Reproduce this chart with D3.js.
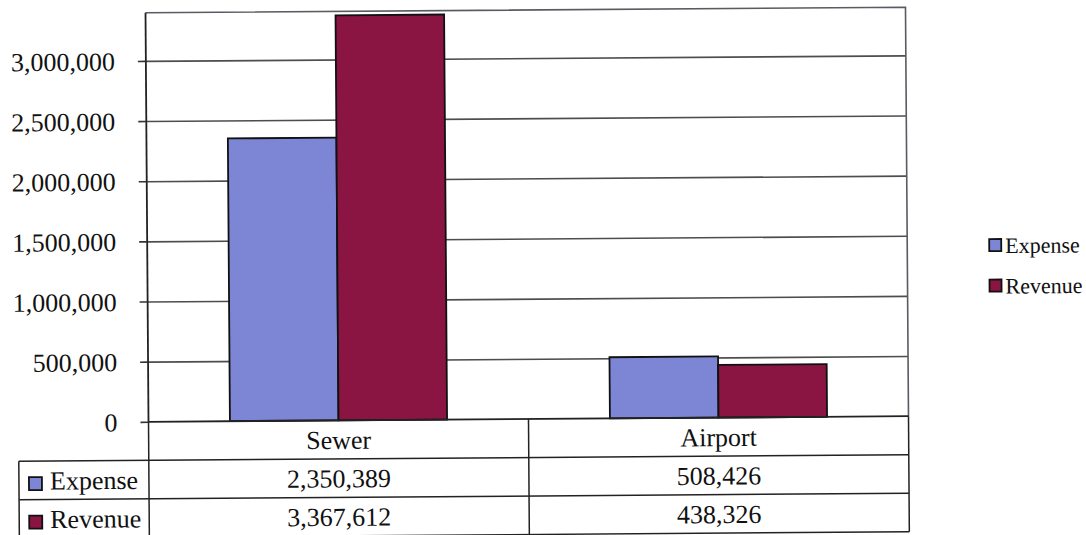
<!DOCTYPE html>
<html>
<head>
<meta charset="utf-8">
<script src="https://cdn.jsdelivr.net/npm/d3@7"></script>
<style>
  html, body { margin: 0; padding: 0; background: #fff; }
  svg { display: block; }
  svg text { font-family: "Liberation Serif", "Times New Roman", Times, Tinos, "DejaVu Serif", serif !important; fill: #111; }
</style>
</head>
<body>
<svg id="chart" width="1086" height="535"></svg>
<script>
// Expense vs. revenue by fund, with a data table under the category axis
const categories = ["Sewer", "Airport"];
const seriesNames = ["Expense", "Revenue"];
const expense = [2350389, 508426];
const revenue = [3367612, 438326];
const yTicks = [0, 500000, 1000000, 1500000, 2000000, 2500000, 3000000];
const yMax = 3400000;

const colors = { Expense: "#7c86d5", Revenue: "#8a1442" };
const values = { Expense: expense, Revenue: revenue };

const plot = { left: 147, right: 907, top: 10, bottom: 419 };
const table = { left: 17, rowH: 38.5 };

const svg = d3.select("#chart");
// the whole sheet sits at a slight angle
const root = svg.append("g").attr("transform", "rotate(-0.42, 527, 215)");

const fmt = d3.format(",");

const x = d3.scaleBand().domain(categories).range([plot.left, plot.right]);
const bw = x.bandwidth();
const gapSide = bw * 0.75 / 3.5;
const x1 = d3.scaleBand().domain(seriesNames).range([gapSide, bw - gapSide]);
const y = d3.scaleLinear().domain([0, yMax]).range([plot.bottom, plot.top]);

// gridlines
const grid = root.append("g")
  .attr("transform", `translate(${plot.left},0)`)
  .call(d3.axisLeft(y).tickValues(yTicks.slice(1)).tickSize(-(plot.right - plot.left)).tickFormat(""));
grid.select(".domain").remove();
grid.selectAll("line").attr("stroke", "#4d4d4d").attr("stroke-width", 1.6);

// plot frame (top and right)
root.append("path")
  .attr("d", `M${plot.left},${plot.top}H${plot.right}V${plot.bottom}`)
  .attr("fill", "none").attr("stroke", "#5a5a62").attr("stroke-width", 1.6);

// bars
const groups = root.append("g").selectAll("g")
  .data(categories)
  .join("g")
  .attr("transform", d => `translate(${x(d)},0)`);

groups.selectAll("rect")
  .data((d, i) => seriesNames.map(s => ({ s, v: values[s][i] })))
  .join("rect")
  .attr("x", d => x1(d.s))
  .attr("width", x1.bandwidth())
  .attr("y", d => y(d.v))
  .attr("height", d => y(0) - y(d.v))
  .attr("fill", d => colors[d.s])
  .attr("stroke", "#111")
  .attr("stroke-width", 1.8);

// value axis
const yAxis = root.append("g")
  .attr("transform", `translate(${plot.left},0)`)
  .call(d3.axisLeft(y).tickValues(yTicks).tickSize(8).tickPadding(23).tickFormat(fmt));
yAxis.attr("font-family", null);
yAxis.select(".domain").attr("d", `M0,${plot.top}V${plot.bottom}`).attr("stroke", "#222").attr("stroke-width", 1.8);
yAxis.selectAll(".tick line").attr("stroke", "#333").attr("stroke-width", 1.6);
yAxis.selectAll(".tick text")
  .attr("font-size", 26)
  .attr("dy", "0.34em")
  .attr("fill", "#111");

// data table
const rowTops = [plot.bottom, plot.bottom + table.rowH, plot.bottom + 2 * table.rowH];
const tableBottom = plot.bottom + 3 * table.rowH;
const tbl = root.append("g").attr("fill", "none").attr("stroke", "#222").attr("stroke-width", 1.5);

// baseline / category axis line
tbl.append("line").attr("x1", plot.left).attr("x2", plot.right).attr("y1", plot.bottom).attr("y2", plot.bottom)
  .attr("stroke-width", 1.8);
// horizontal row lines
[rowTops[1], rowTops[2], tableBottom].forEach(yy => {
  tbl.append("line").attr("x1", table.left).attr("x2", plot.right).attr("y1", yy).attr("y2", yy);
});
// vertical lines
tbl.append("line").attr("x1", table.left).attr("x2", table.left).attr("y1", rowTops[1]).attr("y2", tableBottom);
tbl.append("line").attr("x1", plot.left).attr("x2", plot.left).attr("y1", plot.bottom).attr("y2", tableBottom);
categories.forEach(c => {
  const xe = x(c) + bw;
  tbl.append("line").attr("x1", xe).attr("x2", xe).attr("y1", plot.bottom).attr("y2", tableBottom);
});

// category headers
root.append("g").selectAll("text")
  .data(categories)
  .join("text")
  .attr("x", d => x(d) + bw / 2)
  .attr("y", rowTops[0] + 28.5)
  .attr("text-anchor", "middle")
  .attr("font-size", 26)
  .text(d => d);

// series rows: legend key, name and values
seriesNames.forEach((s, r) => {
  const top = rowTops[r + 1];
  root.append("rect")
    .attr("x", table.left + 10).attr("y", top + 16)
    .attr("width", 13).attr("height", 13)
    .attr("fill", colors[s]).attr("stroke", "#111").attr("stroke-width", 1.8);
  root.append("text")
    .attr("x", table.left + 31).attr("y", top + 28.5)
    .attr("font-size", 26)
    .text(s);
  root.append("g").selectAll("text")
    .data(categories)
    .join("text")
    .attr("x", d => x(d) + bw / 2)
    .attr("y", top + 28.5)
    .attr("text-anchor", "middle")
    .attr("font-size", 26)
    .text((d, i) => fmt(values[s][i]));
});

// legend
const legend = root.append("g").attr("transform", "translate(989,0)");
const legendY = d3.scalePoint().domain(seriesNames).range([256.5, 297]);
seriesNames.forEach(s => {
  legend.append("rect")
    .attr("x", 0).attr("y", legendY(s) - 14)
    .attr("width", 12).attr("height", 12)
    .attr("fill", colors[s]).attr("stroke", "#111").attr("stroke-width", 1.8);
  legend.append("text")
    .attr("x", 16).attr("y", legendY(s))
    .attr("font-size", 22)
    .text(s);
});
</script>
</body>
</html>
